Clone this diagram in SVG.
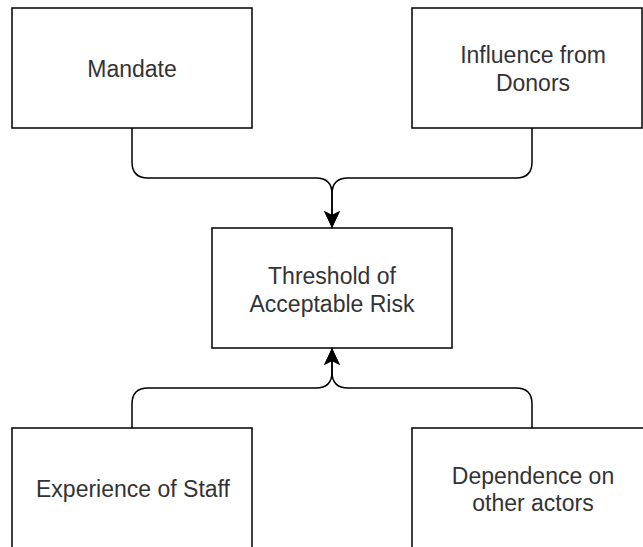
<svg xmlns="http://www.w3.org/2000/svg" width="643" height="547" viewBox="0 0 643 547">
  <defs>
    <marker id="arrow" viewBox="0 0 17 16" refX="17" refY="8" markerWidth="17" markerHeight="16" markerUnits="userSpaceOnUse" orient="auto">
      <path d="M0,0 L17,8 L0,16 L4,8 Z" fill="#000"/>
    </marker>
    <style>
      .box { fill: #fff; stroke: #000; stroke-width: 1.5; }
      .label { font-family: "Liberation Sans", Arial, sans-serif; font-size: 23px; fill: #333; text-anchor: middle; }
      .edge { fill: none; stroke: #000; stroke-width: 1.5; }
    </style>
  </defs>

  <rect width="643" height="547" fill="#fff"/>

  <g id="connectors">
    <path class="edge" d="M132,128 V162 Q132,178 148,178 H316 Q332,178 332,194 V228" marker-end="url(#arrow)"/>
    <path class="edge" d="M532,128 V162 Q532,178 516,178 H348 Q332,178 332,194 V228" marker-end="url(#arrow)"/>
    <path class="edge" d="M132,428 V404 Q132,388 148,388 H316 Q332,388 332,372 V348" marker-end="url(#arrow)"/>
    <path class="edge" d="M532,428 V404 Q532,388 516,388 H348 Q332,388 332,372 V348" marker-end="url(#arrow)"/>
  </g>

  <g id="mandate">
    <rect class="box" x="12" y="8" width="240" height="120"/>
    <text class="label" x="132" y="77">Mandate</text>
  </g>

  <g id="donors">
    <rect class="box" x="412" y="8" width="230" height="120"/>
    <text class="label" x="533" y="63">Influence from</text>
    <text class="label" x="533" y="91">Donors</text>
  </g>

  <g id="threshold">
    <rect class="box" x="212" y="228" width="240" height="120"/>
    <text class="label" x="332" y="284">Threshold of</text>
    <text class="label" x="332" y="312">Acceptable Risk</text>
  </g>

  <g id="experience">
    <rect class="box" x="12" y="428" width="240" height="120"/>
    <text class="label" x="133" y="497">Experience of Staff</text>
  </g>

  <g id="dependence">
    <rect class="box" x="412" y="428" width="240" height="120"/>
    <text class="label" x="533" y="484">Dependence on</text>
    <text class="label" x="533" y="511">other actors</text>
  </g>
</svg>
